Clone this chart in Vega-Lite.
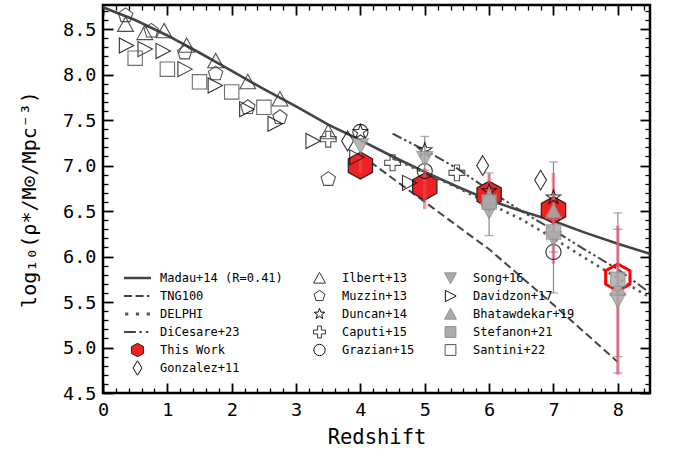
{
  "$schema": "https://vega.github.io/schema/vega-lite/v6.json",
  "width": 547,
  "height": 388,
  "autosize": {"type": "none"},
  "padding": {"left": 103, "top": 5, "right": 27, "bottom": 63},
  "background": "white",
  "config": {
    "view": {"stroke": "black", "strokeWidth": 2.5},
    "axis": {"labelFont": "DejaVu Sans Mono", "titleFont": "DejaVu Sans Mono", "labelColor": "black", "titleColor": "black", "titleFontWeight": "normal", "domain": false, "grid": false, "tickColor": "black", "labelOverlap": false, "labelFlush": false},
    "legend": {"labelFont": "DejaVu Sans Mono", "labelFontSize": 12, "labelColor": "black"}
  },
  "datasets": {
    "lines": [
      {"series": "Madau+14 (R=0.41)", "z": 0, "v": 8.74},
      {"series": "Madau+14 (R=0.41)", "z": 0.5, "v": 8.6},
      {"series": "Madau+14 (R=0.41)", "z": 1, "v": 8.43},
      {"series": "Madau+14 (R=0.41)", "z": 1.5, "v": 8.24},
      {"series": "Madau+14 (R=0.41)", "z": 2, "v": 8.04},
      {"series": "Madau+14 (R=0.41)", "z": 2.5, "v": 7.84},
      {"series": "Madau+14 (R=0.41)", "z": 3, "v": 7.65},
      {"series": "Madau+14 (R=0.41)", "z": 3.5, "v": 7.45},
      {"series": "Madau+14 (R=0.41)", "z": 4, "v": 7.28},
      {"series": "Madau+14 (R=0.41)", "z": 4.5, "v": 7.1},
      {"series": "Madau+14 (R=0.41)", "z": 5, "v": 6.93},
      {"series": "Madau+14 (R=0.41)", "z": 5.5, "v": 6.77},
      {"series": "Madau+14 (R=0.41)", "z": 6, "v": 6.62},
      {"series": "Madau+14 (R=0.41)", "z": 6.5, "v": 6.5},
      {"series": "Madau+14 (R=0.41)", "z": 7, "v": 6.39},
      {"series": "Madau+14 (R=0.41)", "z": 7.5, "v": 6.26},
      {"series": "Madau+14 (R=0.41)", "z": 8, "v": 6.14},
      {"series": "Madau+14 (R=0.41)", "z": 8.5, "v": 6.03},
      {"series": "TNG100", "z": 4, "v": 7.12},
      {"series": "TNG100", "z": 5, "v": 6.6},
      {"series": "TNG100", "z": 6, "v": 6.08},
      {"series": "TNG100", "z": 7, "v": 5.47},
      {"series": "TNG100", "z": 8, "v": 4.84},
      {"series": "DELPHI", "z": 4.5, "v": 7.08},
      {"series": "DELPHI", "z": 5, "v": 6.92},
      {"series": "DELPHI", "z": 5.5, "v": 6.76},
      {"series": "DELPHI", "z": 6, "v": 6.58},
      {"series": "DELPHI", "z": 6.5, "v": 6.41},
      {"series": "DELPHI", "z": 7, "v": 6.2},
      {"series": "DELPHI", "z": 7.5, "v": 5.98},
      {"series": "DELPHI", "z": 8, "v": 5.76},
      {"series": "DELPHI", "z": 8.5, "v": 5.55},
      {"series": "DiCesare+23", "z": 4.5, "v": 7.35},
      {"series": "DiCesare+23", "z": 5, "v": 7.17},
      {"series": "DiCesare+23", "z": 5.5, "v": 6.97},
      {"series": "DiCesare+23", "z": 6, "v": 6.73},
      {"series": "DiCesare+23", "z": 6.5, "v": 6.5},
      {"series": "DiCesare+23", "z": 7, "v": 6.29},
      {"series": "DiCesare+23", "z": 7.5, "v": 6.07},
      {"series": "DiCesare+23", "z": 8, "v": 5.86},
      {"series": "DiCesare+23", "z": 8.5, "v": 5.6}
    ],
    "points": [
      {"series": "This Work", "z": 4, "v": 7.0},
      {"series": "This Work", "z": 5, "v": 6.77},
      {"series": "This Work", "z": 6, "v": 6.68},
      {"series": "This Work", "z": 7, "v": 6.51},
      {"series": "This Work", "z": 8, "v": 5.77},
      {"series": "Ilbert+13", "z": 0.35, "v": 8.55},
      {"series": "Ilbert+13", "z": 0.65, "v": 8.46},
      {"series": "Ilbert+13", "z": 0.95, "v": 8.48},
      {"series": "Ilbert+13", "z": 1.3, "v": 8.32},
      {"series": "Ilbert+13", "z": 1.75, "v": 8.15},
      {"series": "Ilbert+13", "z": 2.25, "v": 7.92},
      {"series": "Ilbert+13", "z": 2.75, "v": 7.73},
      {"series": "Ilbert+13", "z": 3.5, "v": 7.37},
      {"series": "Muzzin+13", "z": 0.35, "v": 8.65},
      {"series": "Muzzin+13", "z": 0.75, "v": 8.48},
      {"series": "Muzzin+13", "z": 1.27, "v": 8.24},
      {"series": "Muzzin+13", "z": 1.75, "v": 8.01},
      {"series": "Muzzin+13", "z": 2.25, "v": 7.64},
      {"series": "Muzzin+13", "z": 2.75, "v": 7.53},
      {"series": "Muzzin+13", "z": 3.5, "v": 6.85},
      {"series": "Davidzon+17", "z": 0.36, "v": 8.32},
      {"series": "Davidzon+17", "z": 0.65, "v": 8.28},
      {"series": "Davidzon+17", "z": 0.93, "v": 8.26},
      {"series": "Davidzon+17", "z": 1.27, "v": 8.06},
      {"series": "Davidzon+17", "z": 1.74, "v": 7.88},
      {"series": "Davidzon+17", "z": 2.23, "v": 7.62},
      {"series": "Davidzon+17", "z": 2.67, "v": 7.46},
      {"series": "Davidzon+17", "z": 3.26, "v": 7.27},
      {"series": "Davidzon+17", "z": 3.94, "v": 7.09},
      {"series": "Davidzon+17", "z": 4.76, "v": 6.81},
      {"series": "Santini+22", "z": 0.5, "v": 8.18},
      {"series": "Santini+22", "z": 1.0, "v": 8.06},
      {"series": "Santini+22", "z": 1.5, "v": 7.92},
      {"series": "Santini+22", "z": 2.0, "v": 7.81},
      {"series": "Santini+22", "z": 2.5, "v": 7.64},
      {"series": "Caputi+15", "z": 3.5, "v": 7.29},
      {"series": "Caputi+15", "z": 4.5, "v": 7.03},
      {"series": "Caputi+15", "z": 5.5, "v": 6.92},
      {"series": "Gonzalez+11", "z": 3.8, "v": 7.27},
      {"series": "Gonzalez+11", "z": 5.9, "v": 7.0},
      {"series": "Gonzalez+11", "z": 6.8, "v": 6.84},
      {"series": "Duncan+14", "z": 4, "v": 7.37},
      {"series": "Duncan+14", "z": 5, "v": 7.17},
      {"series": "Duncan+14", "z": 6, "v": 6.72},
      {"series": "Duncan+14", "z": 7, "v": 6.65},
      {"series": "Grazian+15", "z": 4, "v": 7.37},
      {"series": "Grazian+15", "z": 5, "v": 6.94},
      {"series": "Grazian+15", "z": 6, "v": 6.59},
      {"series": "Grazian+15", "z": 7, "v": 6.05},
      {"series": "Song+16", "z": 4, "v": 7.22},
      {"series": "Song+16", "z": 5, "v": 7.08},
      {"series": "Song+16", "z": 6, "v": 6.5},
      {"series": "Song+16", "z": 7, "v": 6.2},
      {"series": "Song+16", "z": 8, "v": 5.52},
      {"series": "Bhatawdekar+19", "z": 6, "v": 6.66},
      {"series": "Bhatawdekar+19", "z": 7, "v": 6.5},
      {"series": "Bhatawdekar+19", "z": 8, "v": 5.65},
      {"series": "Stefanon+21", "z": 6, "v": 6.6},
      {"series": "Stefanon+21", "z": 7, "v": 6.27},
      {"series": "Stefanon+21", "z": 8, "v": 5.75}
    ],
    "errTW": [
      {"z": 4, "lo": 6.92, "hi": 7.08},
      {"z": 5, "lo": 6.52, "hi": 6.97},
      {"z": 6, "lo": 6.45, "hi": 6.91},
      {"z": 7, "lo": 5.92, "hi": 6.92},
      {"z": 8, "lo": 4.7, "hi": 6.34}
    ],
    "errLit": [
      {"z": 5, "lo": 6.95, "hi": 7.32},
      {"z": 6, "lo": 6.23, "hi": 6.92},
      {"z": 7, "lo": 5.6, "hi": 7.04},
      {"z": 7, "lo": 6.05, "hi": 6.41},
      {"z": 8, "lo": 4.72, "hi": 6.48},
      {"z": 8, "lo": 4.9, "hi": 6.3}
    ]
  },
  "resolve": {"axis": {"x": "independent", "y": "independent"}},
  "layer": [
    {
      "data": {"name": "lines"},
      "transform": [{"filter": "datum.series === 'Madau+14 (R=0.41)'"}],
      "mark": {"type": "line", "color": "#444444", "strokeWidth": 2.6, "clip": true},
      "encoding": {
        "x": {"field": "z", "type": "quantitative", "scale": {"domain": [0, 8.5], "nice": false, "zero": false},
          "axis": {"orient": "bottom", "values": [0, 1, 2, 3, 4, 5, 6, 7, 8], "format": "d", "tickSize": -10, "tickWidth": 1.8, "labelPadding": 17, "labelFontSize": 18.5, "title": "Redshift", "titleFontSize": 20.5, "titlePadding": 9}},
        "y": {"field": "v", "type": "quantitative", "scale": {"domain": [4.5, 8.765], "nice": false, "zero": false},
          "axis": {"orient": "left", "values": [4.5, 5, 5.5, 6, 6.5, 7, 7.5, 8, 8.5], "format": ".1f", "tickSize": -10, "tickWidth": 1.8, "labelPadding": 17, "labelFontSize": 18.5, "title": "log₁₀(ρ*/M⊙/Mpc⁻³)", "titleFontSize": 20, "titlePadding": 23}}
      }
    },
    {
      "data": {"name": "lines"},
      "transform": [{"filter": "datum.series === 'TNG100'"}],
      "mark": {"type": "line", "color": "#444444", "strokeWidth": 2, "strokeDash": [8, 4], "clip": true},
      "encoding": {
        "x": {"field": "z", "type": "quantitative", "scale": {"domain": [0, 8.5], "nice": false, "zero": false},
          "axis": {"orient": "bottom", "values": [0.2, 0.4, 0.6, 0.8, 1.2, 1.4, 1.6, 1.8, 2.2, 2.4, 2.6, 2.8, 3.2, 3.4, 3.6, 3.8, 4.2, 4.4, 4.6, 4.8, 5.2, 5.4, 5.6, 5.8, 6.2, 6.4, 6.6, 6.8, 7.2, 7.4, 7.6, 7.8, 8.2, 8.4], "labels": false, "title": null, "tickSize": -5, "tickWidth": 1.3}},
        "y": {"field": "v", "type": "quantitative", "scale": {"domain": [4.5, 8.765], "nice": false, "zero": false},
          "axis": {"orient": "left", "values": [4.6, 4.7, 4.8, 4.9, 5.1, 5.2, 5.3, 5.4, 5.6, 5.7, 5.8, 5.9, 6.1, 6.2, 6.3, 6.4, 6.6, 6.7, 6.8, 6.9, 7.1, 7.2, 7.3, 7.4, 7.6, 7.7, 7.8, 7.9, 8.1, 8.2, 8.3, 8.4, 8.6, 8.7], "labels": false, "title": null, "tickSize": -5, "tickWidth": 1.3}}
      }
    },
    {
      "data": {"name": "lines"},
      "transform": [{"filter": "datum.series === 'DELPHI'"}],
      "mark": {"type": "line", "color": "#555555", "strokeWidth": 2.6, "strokeDash": [2.5, 4.5], "clip": true},
      "encoding": {
        "x": {"field": "z", "type": "quantitative", "scale": {"domain": [0, 8.5], "nice": false, "zero": false},
          "axis": {"orient": "top", "values": [0, 1, 2, 3, 4, 5, 6, 7, 8], "labels": false, "title": null, "tickSize": -10, "tickWidth": 1.8}},
        "y": {"field": "v", "type": "quantitative", "scale": {"domain": [4.5, 8.765], "nice": false, "zero": false},
          "axis": {"orient": "right", "values": [4.5, 5, 5.5, 6, 6.5, 7, 7.5, 8, 8.5], "labels": false, "title": null, "tickSize": -10, "tickWidth": 1.8}}
      }
    },
    {
      "data": {"name": "lines"},
      "transform": [{"filter": "datum.series === 'DiCesare+23'"}],
      "mark": {"type": "line", "color": "#444444", "strokeWidth": 2, "strokeDash": [10, 3, 2.5, 3, 2.5, 3], "clip": true},
      "encoding": {
        "x": {"field": "z", "type": "quantitative", "scale": {"domain": [0, 8.5], "nice": false, "zero": false},
          "axis": {"orient": "top", "values": [0.2, 0.4, 0.6, 0.8, 1.2, 1.4, 1.6, 1.8, 2.2, 2.4, 2.6, 2.8, 3.2, 3.4, 3.6, 3.8, 4.2, 4.4, 4.6, 4.8, 5.2, 5.4, 5.6, 5.8, 6.2, 6.4, 6.6, 6.8, 7.2, 7.4, 7.6, 7.8, 8.2, 8.4], "labels": false, "title": null, "tickSize": -5, "tickWidth": 1.3}},
        "y": {"field": "v", "type": "quantitative", "scale": {"domain": [4.5, 8.765], "nice": false, "zero": false},
          "axis": {"orient": "right", "values": [4.6, 4.7, 4.8, 4.9, 5.1, 5.2, 5.3, 5.4, 5.6, 5.7, 5.8, 5.9, 6.1, 6.2, 6.3, 6.4, 6.6, 6.7, 6.8, 6.9, 7.1, 7.2, 7.3, 7.4, 7.6, 7.7, 7.8, 7.9, 8.1, 8.2, 8.3, 8.4, 8.6, 8.7], "labels": false, "title": null, "tickSize": -5, "tickWidth": 1.3}}
      }
    },
    {
      "data": {"name": "points"},
      "transform": [{"filter": "datum.series === 'This Work' && datum.z < 7.5"}],
      "mark": {"type": "point", "filled": true, "size": 2916, "strokeWidth": 1.2, "opacity": 1},
      "encoding": {
        "x": {"field": "z", "type": "quantitative", "scale": {"domain": [0, 8.5], "nice": false, "zero": false}, "axis": null},
        "y": {"field": "v", "type": "quantitative", "scale": {"domain": [4.5, 8.765], "nice": false, "zero": false}, "axis": null},
        "fill": {"field": "series", "type": "nominal",
          "scale": {"domain": ["Madau+14 (R=0.41)", "Ilbert+13", "Song+16", "TNG100", "Muzzin+13", "Davidzon+17", "DELPHI", "Duncan+14", "Bhatawdekar+19", "DiCesare+23", "Caputi+15", "Stefanon+21", "This Work", "Grazian+15", "Santini+22", "Gonzalez+11"],
            "range": ["#444444", "transparent", "#ababab", "#444444", "transparent", "transparent", "#555555", "transparent", "#ababab", "#444444", "transparent", "#ababab", "#ee2222", "transparent", "transparent", "transparent"]},
          "legend": {"title": null, "orient": "none", "direction": "horizontal", "legendX": 20.5, "legendY": 265.5, "columns": 3, "columnPadding": 22, "rowPadding": 3, "clipHeight": 15, "symbolSize": 729, "symbolStrokeWidth": 1, "labelOffset": 8.5, "labelFontSize": 12, "padding": 0}},
        "stroke": {"field": "series", "type": "nominal",
          "scale": {"domain": ["Madau+14 (R=0.41)", "Ilbert+13", "Song+16", "TNG100", "Muzzin+13", "Davidzon+17", "DELPHI", "Duncan+14", "Bhatawdekar+19", "DiCesare+23", "Caputi+15", "Stefanon+21", "This Work", "Grazian+15", "Santini+22", "Gonzalez+11"],
            "range": ["transparent", "#333333", "#909090", "transparent", "#333333", "#111111", "transparent", "#111111", "#909090", "transparent", "#333333", "#909090", "#222222", "#111111", "#555555", "#111111"]},
          "legend": {"title": null, "orient": "none", "direction": "horizontal", "legendX": 20.5, "legendY": 265.5, "columns": 3, "columnPadding": 22, "rowPadding": 3, "clipHeight": 15, "symbolSize": 729, "symbolStrokeWidth": 1, "labelOffset": 8.5, "labelFontSize": 12, "padding": 0}},
        "shape": {"field": "series", "type": "nominal",
          "scale": {"domain": ["Madau+14 (R=0.41)", "Ilbert+13", "Song+16", "TNG100", "Muzzin+13", "Davidzon+17", "DELPHI", "Duncan+14", "Bhatawdekar+19", "DiCesare+23", "Caputi+15", "Stefanon+21", "This Work", "Grazian+15", "Santini+22", "Gonzalez+11"],
            "range": [
              "M-1,-0.1H1V0.1H-1Z",
              "M0,-0.42L0.44,0.38L-0.44,0.38Z",
              "M0,0.42L0.44,-0.38L-0.44,-0.38Z",
              "M-1,-0.07H-0.4V0.07H-1ZM-0.15,-0.07H0.45V0.07H-0.15ZM0.7,-0.07H0.88V0.07H0.7Z",
              "M0,-0.42L0.4,-0.13L0.25,0.34L-0.25,0.34L-0.4,-0.13Z",
              "M0.42,0L-0.38,0.42L-0.38,-0.42Z",
              "M-0.92,-0.12H-0.68V0.12H-0.92ZM-0.12,-0.12H0.12V0.12H-0.12ZM0.68,-0.12H0.92V0.12H0.68Z",
              "M0,-0.42L0.1,-0.14L0.4,-0.13L0.16,0.05L0.25,0.34L0,0.17L-0.25,0.34L-0.16,0.05L-0.4,-0.13L-0.1,-0.14Z",
              "M0,-0.42L0.44,0.38L-0.44,0.38Z",
              "M-1,-0.07H-0.12V0.07H-1ZM0.14,-0.08H0.32V0.08H0.14ZM0.62,-0.08H0.8V0.08H0.62Z",
              "M-0.14,-0.44H0.14V-0.14H0.44V0.14H0.14V0.44H-0.14V0.14H-0.44V-0.14H-0.14Z",
              "M-0.4,-0.4H0.4V0.4H-0.4Z",
              "M0,-0.5L0.45,-0.25L0.45,0.25L0,0.5L-0.45,0.25L-0.45,-0.25Z",
              "M-0.42,0A0.42,0.42,0,1,0,0.42,0A0.42,0.42,0,1,0,-0.42,0Z",
              "M-0.4,-0.4H0.4V0.4H-0.4Z",
              "M0,-0.55L0.33,0L0,0.55L-0.33,0Z"
            ]},
          "legend": {"title": null, "orient": "none", "direction": "horizontal", "legendX": 20.5, "legendY": 265.5, "columns": 3, "columnPadding": 22, "rowPadding": 3, "clipHeight": 15, "symbolSize": 729, "symbolStrokeWidth": 1, "labelOffset": 8.5, "labelFontSize": 12, "padding": 0}}
      }
    },
    {
      "data": {"name": "points"},
      "transform": [{"filter": "datum.series === 'This Work' && datum.z > 7.5"}],
      "mark": {"type": "point", "filled": false, "size": 2916, "strokeWidth": 3, "stroke": "#ff0000", "fill": "transparent", "opacity": 1, "shape": "M0,-0.5L0.45,-0.25L0.45,0.25L0,0.5L-0.45,0.25L-0.45,-0.25Z"},
      "encoding": {
        "x": {"field": "z", "type": "quantitative", "scale": {"domain": [0, 8.5], "nice": false, "zero": false}, "axis": null},
        "y": {"field": "v", "type": "quantitative", "scale": {"domain": [4.5, 8.765], "nice": false, "zero": false}, "axis": null}
      }
    },
    {
      "data": {"name": "errLit"},
      "mark": {"type": "rule", "color": "#8a8a8a", "strokeWidth": 1.2},
      "encoding": {
        "x": {"field": "z", "type": "quantitative", "scale": {"domain": [0, 8.5], "nice": false, "zero": false}, "axis": null},
        "y": {"field": "lo", "type": "quantitative", "scale": {"domain": [4.5, 8.765], "nice": false, "zero": false}, "axis": null},
        "y2": {"field": "hi"}
      }
    },
    {
      "data": {"name": "errLit"},
      "mark": {"type": "tick", "orient": "horizontal", "color": "#8a8a8a", "size": 9, "thickness": 1.3},
      "encoding": {
        "x": {"field": "z", "type": "quantitative", "scale": {"domain": [0, 8.5], "nice": false, "zero": false}, "axis": null},
        "y": {"field": "lo", "type": "quantitative", "scale": {"domain": [4.5, 8.765], "nice": false, "zero": false}, "axis": null}
      }
    },
    {
      "data": {"name": "errLit"},
      "mark": {"type": "tick", "orient": "horizontal", "color": "#8a8a8a", "size": 9, "thickness": 1.3},
      "encoding": {
        "x": {"field": "z", "type": "quantitative", "scale": {"domain": [0, 8.5], "nice": false, "zero": false}, "axis": null},
        "y": {"field": "hi", "type": "quantitative", "scale": {"domain": [4.5, 8.765], "nice": false, "zero": false}, "axis": null}
      }
    },
    {
      "data": {"name": "errTW"},
      "mark": {"type": "rule", "color": "#e8506a", "strokeWidth": 3.5, "opacity": 0.55},
      "encoding": {
        "x": {"field": "z", "type": "quantitative", "scale": {"domain": [0, 8.5], "nice": false, "zero": false}, "axis": null},
        "y": {"field": "lo", "type": "quantitative", "scale": {"domain": [4.5, 8.765], "nice": false, "zero": false}, "axis": null},
        "y2": {"field": "hi"}
      }
    },
    {
      "data": {"name": "points"},
      "transform": [{"filter": "datum.series !== 'This Work'"}],
      "mark": {"type": "point", "filled": true, "size": 1296, "strokeWidth": 1.1, "opacity": 0.85},
      "encoding": {
        "x": {"field": "z", "type": "quantitative", "scale": {"domain": [0, 8.5], "nice": false, "zero": false}, "axis": null},
        "y": {"field": "v", "type": "quantitative", "scale": {"domain": [4.5, 8.765], "nice": false, "zero": false}, "axis": null},
        "fill": {"field": "series", "type": "nominal",
          "scale": {"domain": ["Madau+14 (R=0.41)", "Ilbert+13", "Song+16", "TNG100", "Muzzin+13", "Davidzon+17", "DELPHI", "Duncan+14", "Bhatawdekar+19", "DiCesare+23", "Caputi+15", "Stefanon+21", "This Work", "Grazian+15", "Santini+22", "Gonzalez+11"],
            "range": ["#444444", "transparent", "#ababab", "#444444", "transparent", "transparent", "#555555", "transparent", "#ababab", "#444444", "transparent", "#ababab", "#ee2222", "transparent", "transparent", "transparent"]},
          "legend": {"title": null, "orient": "none", "direction": "horizontal", "legendX": 20.5, "legendY": 265.5, "columns": 3, "columnPadding": 22, "rowPadding": 3, "clipHeight": 15, "symbolSize": 729, "symbolStrokeWidth": 1, "labelOffset": 8.5, "labelFontSize": 12, "padding": 0}},
        "stroke": {"field": "series", "type": "nominal",
          "scale": {"domain": ["Madau+14 (R=0.41)", "Ilbert+13", "Song+16", "TNG100", "Muzzin+13", "Davidzon+17", "DELPHI", "Duncan+14", "Bhatawdekar+19", "DiCesare+23", "Caputi+15", "Stefanon+21", "This Work", "Grazian+15", "Santini+22", "Gonzalez+11"],
            "range": ["transparent", "#333333", "#909090", "transparent", "#333333", "#111111", "transparent", "#111111", "#909090", "transparent", "#333333", "#909090", "#222222", "#111111", "#555555", "#111111"]},
          "legend": {"title": null, "orient": "none", "direction": "horizontal", "legendX": 20.5, "legendY": 265.5, "columns": 3, "columnPadding": 22, "rowPadding": 3, "clipHeight": 15, "symbolSize": 729, "symbolStrokeWidth": 1, "labelOffset": 8.5, "labelFontSize": 12, "padding": 0}},
        "shape": {"field": "series", "type": "nominal",
          "scale": {"domain": ["Madau+14 (R=0.41)", "Ilbert+13", "Song+16", "TNG100", "Muzzin+13", "Davidzon+17", "DELPHI", "Duncan+14", "Bhatawdekar+19", "DiCesare+23", "Caputi+15", "Stefanon+21", "This Work", "Grazian+15", "Santini+22", "Gonzalez+11"],
            "range": [
              "M-1,-0.1H1V0.1H-1Z",
              "M0,-0.42L0.44,0.38L-0.44,0.38Z",
              "M0,0.42L0.44,-0.38L-0.44,-0.38Z",
              "M-1,-0.07H-0.4V0.07H-1ZM-0.15,-0.07H0.45V0.07H-0.15ZM0.7,-0.07H0.88V0.07H0.7Z",
              "M0,-0.42L0.4,-0.13L0.25,0.34L-0.25,0.34L-0.4,-0.13Z",
              "M0.42,0L-0.38,0.42L-0.38,-0.42Z",
              "M-0.92,-0.12H-0.68V0.12H-0.92ZM-0.12,-0.12H0.12V0.12H-0.12ZM0.68,-0.12H0.92V0.12H0.68Z",
              "M0,-0.42L0.1,-0.14L0.4,-0.13L0.16,0.05L0.25,0.34L0,0.17L-0.25,0.34L-0.16,0.05L-0.4,-0.13L-0.1,-0.14Z",
              "M0,-0.42L0.44,0.38L-0.44,0.38Z",
              "M-1,-0.07H-0.12V0.07H-1ZM0.14,-0.08H0.32V0.08H0.14ZM0.62,-0.08H0.8V0.08H0.62Z",
              "M-0.14,-0.44H0.14V-0.14H0.44V0.14H0.14V0.44H-0.14V0.14H-0.44V-0.14H-0.14Z",
              "M-0.4,-0.4H0.4V0.4H-0.4Z",
              "M0,-0.5L0.45,-0.25L0.45,0.25L0,0.5L-0.45,0.25L-0.45,-0.25Z",
              "M-0.42,0A0.42,0.42,0,1,0,0.42,0A0.42,0.42,0,1,0,-0.42,0Z",
              "M-0.4,-0.4H0.4V0.4H-0.4Z",
              "M0,-0.55L0.33,0L0,0.55L-0.33,0Z"
            ]},
          "legend": {"title": null, "orient": "none", "direction": "horizontal", "legendX": 20.5, "legendY": 265.5, "columns": 3, "columnPadding": 22, "rowPadding": 3, "clipHeight": 15, "symbolSize": 729, "symbolStrokeWidth": 1, "labelOffset": 8.5, "labelFontSize": 12, "padding": 0}}
      }
    }
  ]
}
